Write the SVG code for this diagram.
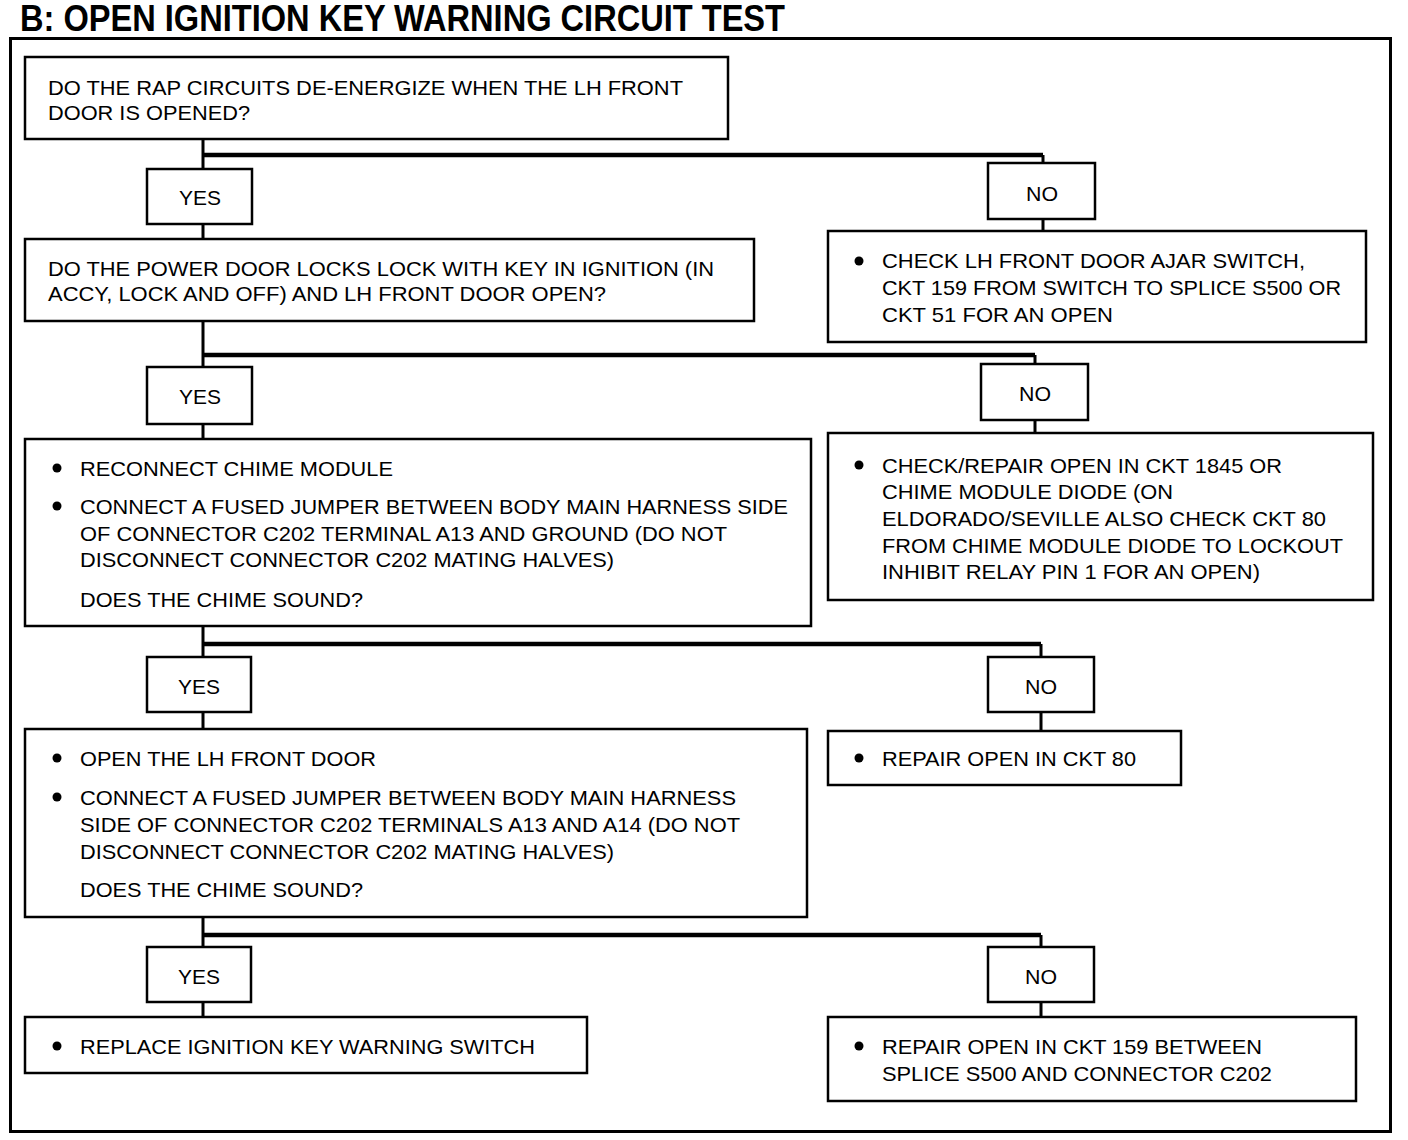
<svg xmlns="http://www.w3.org/2000/svg" width="1408" height="1140" viewBox="0 0 1408 1140">
<style>
.bx{fill:#fff;stroke:#000;stroke-width:2.5}
.t{font-family:"Liberation Sans",Arial,sans-serif;font-size:21px;fill:#000}
.title{font-family:"Liberation Sans",Arial,sans-serif;font-size:36px;font-weight:bold;fill:#000}
.c{fill:none;stroke:#000;stroke-width:3}
.h{fill:none;stroke:#000;stroke-width:4.5}
.d{fill:#000}
</style>
<rect width="1408" height="1140" fill="#fff"/>
<text class="title" x="20" y="31" textLength="765" lengthAdjust="spacingAndGlyphs">B: OPEN IGNITION KEY WARNING CIRCUIT TEST</text>
<rect x="10.5" y="38.5" width="1380" height="1093" fill="none" stroke="#000" stroke-width="3"/>

<g id="connectors">
<path class="c" d="M203 139V169M203 224V239M1043 155V163M1043 219V231"/>
<path class="h" d="M203 155H1043"/>
<path class="c" d="M203 321V367M203 424V439M1035 355V364M1035 420V433"/>
<path class="h" d="M203 355H1035"/>
<path class="c" d="M203 626V657M203 712V729M1041 644V657M1041 712V731"/>
<path class="h" d="M203 644H1041"/>
<path class="c" d="M203 917V947M203 1002V1017M1041 935V947M1041 1002V1017"/>
<path class="h" d="M203 935H1041"/>
</g>

<g id="q1">
<rect class="bx" x="25" y="57" width="703" height="82"/>
<text class="t" x="48" y="95" textLength="635" lengthAdjust="spacingAndGlyphs">DO THE RAP CIRCUITS DE-ENERGIZE WHEN THE LH FRONT</text>
<text class="t" x="48" y="120" textLength="202" lengthAdjust="spacingAndGlyphs">DOOR IS OPENED?</text>
</g>
<g id="yes1"><rect class="bx" x="147" y="169" width="105" height="55"/><text class="t" x="200" y="205" text-anchor="middle" textLength="42" lengthAdjust="spacingAndGlyphs">YES</text></g>
<g id="no1"><rect class="bx" x="988" y="163" width="107" height="56"/><text class="t" x="1042" y="201" text-anchor="middle" textLength="32" lengthAdjust="spacingAndGlyphs">NO</text></g>

<g id="q2">
<rect class="bx" x="25" y="239" width="729" height="82"/>
<text class="t" x="48" y="276" textLength="666" lengthAdjust="spacingAndGlyphs">DO THE POWER DOOR LOCKS LOCK WITH KEY IN IGNITION (IN</text>
<text class="t" x="48" y="301" textLength="558" lengthAdjust="spacingAndGlyphs">ACCY, LOCK AND OFF) AND LH FRONT DOOR OPEN?</text>
</g>
<g id="r1">
<rect class="bx" x="828" y="231" width="538" height="111"/>
<circle class="d" cx="859" cy="261" r="4.5"/>
<text class="t" x="882" y="268" textLength="423" lengthAdjust="spacingAndGlyphs">CHECK LH FRONT DOOR AJAR SWITCH,</text>
<text class="t" x="882" y="295" textLength="459" lengthAdjust="spacingAndGlyphs">CKT 159 FROM SWITCH TO SPLICE S500 OR</text>
<text class="t" x="882" y="322" textLength="231" lengthAdjust="spacingAndGlyphs">CKT 51 FOR AN OPEN</text>
</g>

<g id="yes2"><rect class="bx" x="147" y="367" width="105" height="57"/><text class="t" x="200" y="404" text-anchor="middle" textLength="42" lengthAdjust="spacingAndGlyphs">YES</text></g>
<g id="no2"><rect class="bx" x="981" y="364" width="107" height="56"/><text class="t" x="1035" y="401" text-anchor="middle" textLength="32" lengthAdjust="spacingAndGlyphs">NO</text></g>

<g id="q3">
<rect class="bx" x="25" y="439" width="786" height="187"/>
<circle class="d" cx="57" cy="468" r="4.5"/>
<text class="t" x="80" y="476" textLength="313" lengthAdjust="spacingAndGlyphs">RECONNECT CHIME MODULE</text>
<circle class="d" cx="57" cy="506" r="4.5"/>
<text class="t" x="80" y="514" textLength="708" lengthAdjust="spacingAndGlyphs">CONNECT A FUSED JUMPER BETWEEN BODY MAIN HARNESS SIDE</text>
<text class="t" x="80" y="541" textLength="647" lengthAdjust="spacingAndGlyphs">OF CONNECTOR C202 TERMINAL A13 AND GROUND (DO NOT</text>
<text class="t" x="80" y="567" textLength="534" lengthAdjust="spacingAndGlyphs">DISCONNECT CONNECTOR C202 MATING HALVES)</text>
<text class="t" x="80" y="607" textLength="283" lengthAdjust="spacingAndGlyphs">DOES THE CHIME SOUND?</text>
</g>
<g id="r2">
<rect class="bx" x="828" y="433" width="545" height="167"/>
<circle class="d" cx="859" cy="465" r="4.5"/>
<text class="t" x="882" y="473" textLength="400" lengthAdjust="spacingAndGlyphs">CHECK/REPAIR OPEN IN CKT 1845 OR</text>
<text class="t" x="882" y="499" textLength="291" lengthAdjust="spacingAndGlyphs">CHIME MODULE DIODE (ON</text>
<text class="t" x="882" y="526" textLength="444" lengthAdjust="spacingAndGlyphs">ELDORADO/SEVILLE ALSO CHECK CKT 80</text>
<text class="t" x="882" y="553" textLength="461" lengthAdjust="spacingAndGlyphs">FROM CHIME MODULE DIODE TO LOCKOUT</text>
<text class="t" x="882" y="579" textLength="378" lengthAdjust="spacingAndGlyphs">INHIBIT RELAY PIN 1 FOR AN OPEN)</text>
</g>

<g id="yes3"><rect class="bx" x="147" y="657" width="104" height="55"/><text class="t" x="199" y="694" text-anchor="middle" textLength="42" lengthAdjust="spacingAndGlyphs">YES</text></g>
<g id="no3"><rect class="bx" x="988" y="657" width="106" height="55"/><text class="t" x="1041" y="694" text-anchor="middle" textLength="32" lengthAdjust="spacingAndGlyphs">NO</text></g>

<g id="q4">
<rect class="bx" x="25" y="729" width="782" height="188"/>
<circle class="d" cx="57" cy="758" r="4.5"/>
<text class="t" x="80" y="766" textLength="296" lengthAdjust="spacingAndGlyphs">OPEN THE LH FRONT DOOR</text>
<circle class="d" cx="57" cy="797" r="4.5"/>
<text class="t" x="80" y="805" textLength="656" lengthAdjust="spacingAndGlyphs">CONNECT A FUSED JUMPER BETWEEN BODY MAIN HARNESS</text>
<text class="t" x="80" y="832" textLength="660" lengthAdjust="spacingAndGlyphs">SIDE OF CONNECTOR C202 TERMINALS A13 AND A14 (DO NOT</text>
<text class="t" x="80" y="859" textLength="534" lengthAdjust="spacingAndGlyphs">DISCONNECT CONNECTOR C202 MATING HALVES)</text>
<text class="t" x="80" y="897" textLength="283" lengthAdjust="spacingAndGlyphs">DOES THE CHIME SOUND?</text>
</g>
<g id="r3">
<rect class="bx" x="828" y="731" width="353" height="54"/>
<circle class="d" cx="859" cy="758" r="4.5"/>
<text class="t" x="882" y="766" textLength="254" lengthAdjust="spacingAndGlyphs">REPAIR OPEN IN CKT 80</text>
</g>

<g id="yes4"><rect class="bx" x="147" y="947" width="104" height="55"/><text class="t" x="199" y="984" text-anchor="middle" textLength="42" lengthAdjust="spacingAndGlyphs">YES</text></g>
<g id="no4"><rect class="bx" x="988" y="947" width="106" height="55"/><text class="t" x="1041" y="984" text-anchor="middle" textLength="32" lengthAdjust="spacingAndGlyphs">NO</text></g>

<g id="r4">
<rect class="bx" x="25" y="1017" width="562" height="56"/>
<circle class="d" cx="57" cy="1046" r="4.5"/>
<text class="t" x="80" y="1054" textLength="455" lengthAdjust="spacingAndGlyphs">REPLACE IGNITION KEY WARNING SWITCH</text>
</g>
<g id="r5">
<rect class="bx" x="828" y="1017" width="528" height="84"/>
<circle class="d" cx="859" cy="1046" r="4.5"/>
<text class="t" x="882" y="1054" textLength="380" lengthAdjust="spacingAndGlyphs">REPAIR OPEN IN CKT 159 BETWEEN</text>
<text class="t" x="882" y="1081" textLength="390" lengthAdjust="spacingAndGlyphs">SPLICE S500 AND CONNECTOR C202</text>
</g>
</svg>
